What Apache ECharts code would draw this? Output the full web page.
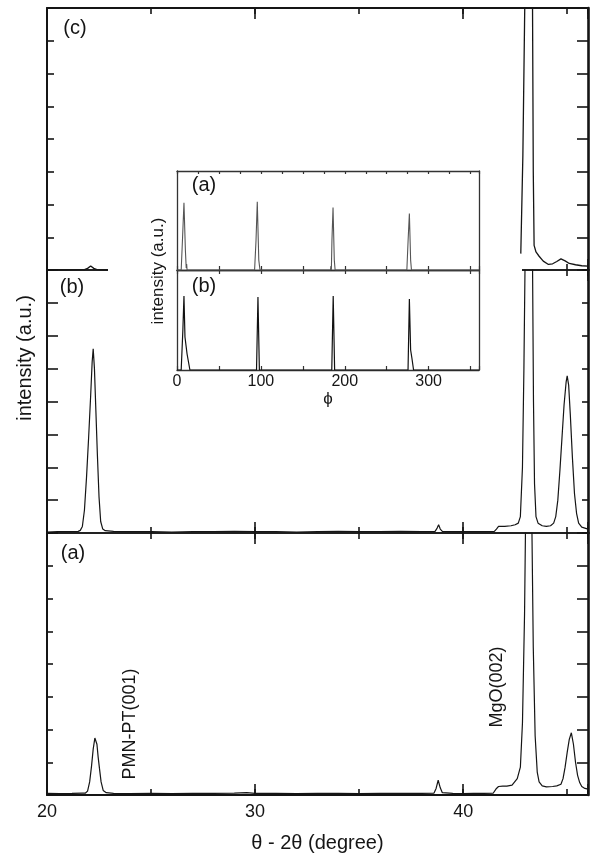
<!DOCTYPE html>
<html>
<head>
<meta charset="utf-8">
<script src="https://cdn.jsdelivr.net/npm/echarts@6/dist/echarts.min.js"></script>
<style>html,body{margin:0;padding:0;background:#fff}#c{width:592px;height:855px}</style>
</head>
<body>
<div id="c"></div>
<script>
// ---- data: theta-2theta scans, [2theta (deg), intensity (a.u.)], panel units 0..8 ----
const scanC = [
  [20.0,0.0],[21.0,0.0],[21.8,0.01],[21.95,0.05],[22.1,0.12],[22.25,0.05],[22.4,0.01],[22.93,0.0],
  [32.0,null],
  [42.77,0.5],[42.87,3.5],[42.95,7.5],[43.02,11],[43.15,40],[43.32,10],[43.37,3],[43.41,0.75],
  [43.5,0.55],[43.65,0.42],[43.85,0.27],[44.1,0.17],[44.3,0.19],[44.5,0.26],[44.7,0.34],[44.78,0.35],
  [44.9,0.28],[45.1,0.2],[45.4,0.16],[45.7,0.13],[46.0,0.12]
];
const scanB = [
  [20.0,0.03],[20.5,0.04],[21.0,0.04],[21.5,0.05],[21.6,0.08],[21.7,0.2],[21.8,0.7],[21.9,1.7],
  [22.0,2.9],[22.1,4.2],[22.17,5.2],[22.22,5.6],[22.28,5.0],[22.35,3.7],[22.42,2.4],[22.5,1.1],
  [22.58,0.35],[22.68,0.12],[22.8,0.07],[23.2,0.05],[24,0.04],[25,0.04],[26,0.03],[27,0.04],
  [28,0.04],[29,0.05],[30,0.04],[31,0.04],[32,0.03],[33,0.04],[34,0.05],[35,0.04],[36,0.04],
  [37,0.05],[38,0.04],[38.65,0.05],[38.75,0.15],[38.82,0.25],[38.9,0.12],[39.0,0.05],[40,0.04],
  [41,0.04],[41.5,0.05],[41.6,0.12],[41.7,0.2],[42.0,0.2],[42.3,0.22],[42.5,0.25],[42.65,0.3],
  [42.75,0.5],[42.85,2.0],[42.92,5.0],[42.98,8.5],[43.15,35],[43.33,8.6],[43.38,4.0],[43.43,1.5],
  [43.5,0.5],[43.6,0.3],[43.8,0.22],[44.0,0.2],[44.2,0.22],[44.35,0.3],[44.45,0.5],[44.55,1.0],
  [44.65,1.9],[44.75,2.9],[44.85,3.9],[44.95,4.6],[45.0,4.78],[45.07,4.5],[45.15,3.6],[45.25,2.3],
  [45.35,1.2],[45.45,0.6],[45.55,0.3],[45.7,0.18],[46.0,0.12]
];
const scanA = [
  [20.0,0.05],[20.6,0.04],[21.2,0.05],[21.7,0.06],[21.85,0.06],[21.95,0.12],[22.05,0.4],[22.14,0.88],
  [22.22,1.4],[22.3,1.74],[22.34,1.77],[22.4,1.55],[22.46,1.15],[22.52,0.82],[22.6,0.4],[22.7,0.14],
  [22.85,0.07],[23.2,0.05],[24,0.04],[25,0.05],[26,0.04],[27,0.05],[28,0.05],[29,0.06],[29.6,0.07],
  [30,0.05],[31,0.05],[32,0.04],[33,0.05],[34,0.05],[35,0.04],[36,0.05],[37,0.05],[38,0.05],
  [38.6,0.06],[38.7,0.2],[38.8,0.45],[38.9,0.22],[39.0,0.07],[39.5,0.05],[40,0.04],[40.5,0.05],
  [41,0.05],[41.45,0.06],[41.6,0.2],[41.7,0.26],[41.9,0.27],[42.1,0.27],[42.35,0.3],[42.6,0.5],
  [42.75,0.85],[42.85,2.2],[42.95,5.5],[43.02,9.5],[43.15,40],[43.28,9.5],[43.37,4.5],[43.46,1.8],
  [43.56,0.7],[43.65,0.4],[43.8,0.28],[44.0,0.25],[44.3,0.26],[44.5,0.28],[44.7,0.33],[44.8,0.5],
  [44.9,0.85],[45.0,1.3],[45.1,1.7],[45.2,1.9],[45.3,1.55],[45.4,1.0],[45.5,0.6],[45.6,0.38],
  [45.7,0.26],[45.85,0.2],[46.0,0.18]
];
// ---- inset: phi scans, [phi (deg), intensity 0..1] ----
const phiA = [
  [0,0],[5,0],[6.5,0.3],[8.3,0.68],[10,0.2],[11,0.02],[11.5,0.06],[12,0],
  [92.5,0],[94.2,0.3],[95.7,0.69],[97.5,0.1],[98.5,0.03],[99,0],
  [183,0],[183.5,0.04],[184,0],[184.7,0.3],[186,0.63],[187.5,0.1],[188.5,0],
  [274,0],[275.5,0.3],[277,0.57],[278.5,0.1],[279.5,0],[360,0]
];
const phiB = [
  [0,0],[5,0],[7,0.4],[8.3,0.74],[9.5,0.33],[12,0.16],[15.4,0],
  [94.8,0],[96.5,0.73],[98.2,0],
  [184.5,0],[186.2,0.74],[187.9,0],
  [275.4,0],[277,0.71],[278.5,0.2],[280,0.12],[282,0],[360,0]
];
const mainTicks = {min: 20, max: 46, interval: 10, minorInterval: 5};
const yTicks = {min: 0, max: 8, interval: 1};
const phiTicks = {min: 0, max: 360};
const panelLabels = ['(c)', '(b)', '(a)'];
const insetLabels = ['(a)', '(b)'];

const FONT = "'Liberation Sans', Arial, Helvetica, sans-serif";
const INK = '#151515';

const mainGrids = [
  {left: 47, top: 8, width: 541, height: 262},
  {left: 47, top: 270, width: 541, height: 263},
  {left: 47, top: 533, width: 541, height: 262}
];
const insetGrids = [
  {left: 177, top: 171, width: 302, height: 99},
  {left: 177, top: 270, width: 302, height: 100}
];
const leftTickLen = [7, 11, 6];
const rightTickLen = [11, 6, 11];

// grids: 0-2 main, 3-4 inset, 5-7 overlays of main grids carrying the short ticks
const grid = mainGrids.concat(insetGrids).concat(mainGrids.map(g => Object.assign({}, g)));
const xAxis = [], yAxis = [];

mainGrids.forEach((g, i) => {
  ['bottom', 'top'].forEach(pos => {
    const outer = (i === 2 && pos === 'bottom') || (i === 0 && pos === 'top');
    const ax = {
      type: 'value', gridIndex: i, position: pos,
      min: mainTicks.min, max: mainTicks.max, interval: mainTicks.interval,
      axisLine: {show: true, onZero: false, lineStyle: {color: INK, width: outer ? 2 : 1.6}},
      axisTick: {show: true, inside: true, length: 11, lineStyle: {color: INK, width: 1.6}},
      splitLine: {show: false},
      axisLabel: {show: false}
    };
    if (i === 2 && pos === 'bottom') {
      ax.axisLabel = {show: true, margin: 8, fontSize: 18, fontFamily: FONT, color: INK,
        formatter: v => (v % 10 === 0 ? String(v) : '')};
      ax.name = 'θ - 2θ (degree)';
      ax.nameLocation = 'middle';
      ax.nameGap = 38;
      ax.nameTextStyle = {fontSize: 20, fontFamily: FONT, color: INK};
    }
    xAxis.push(ax);
  });
  ['left', 'right'].forEach(pos => {
    yAxis.push({
      type: 'value', gridIndex: i, position: pos,
      min: yTicks.min, max: yTicks.max, interval: yTicks.interval,
      axisLine: {show: true, onZero: false, lineStyle: {color: INK, width: pos === 'right' ? 2.6 : 2}},
      axisTick: {show: true, inside: true, length: pos === 'left' ? leftTickLen[i] : rightTickLen[i],
        lineStyle: {color: INK, width: 1.6}},
      splitLine: {show: false}, axisLabel: {show: false}
    });
  });
});

insetGrids.forEach((g, k) => {
  const gi = 3 + k;
  ['bottom', 'top'].forEach(pos => {
    const isTopOuter = (k === 0 && pos === 'top');
    const labelled = (k === 1 && pos === 'bottom');
    xAxis.push({
      type: 'value', gridIndex: gi, position: pos, z: 20,
      min: phiTicks.min, max: phiTicks.max, interval: isTopOuter ? 25 : 50,
      axisLine: {show: true, onZero: false, lineStyle: {color: '#333', width: 1.3}},
      axisTick: {show: true, inside: true, length: isTopOuter ? 3 : 4, lineStyle: {color: '#333', width: 1.2}},
      splitLine: {show: false},
      axisLabel: labelled ? {show: true, margin: 4, fontSize: 16, fontFamily: FONT, color: INK,
        formatter: v => (v % 100 === 0 && v < 360 ? String(v) : '')} : {show: false},
      name: labelled ? 'ϕ' : '',
      nameLocation: 'middle', nameGap: 9,
      nameTextStyle: {fontSize: 17, fontFamily: FONT, color: INK}
    });
  });
  ['left', 'right'].forEach(pos => {
    yAxis.push({
      type: 'value', gridIndex: gi, position: pos, z: 20,
      min: 0, max: 1,
      axisLine: {show: true, onZero: false, lineStyle: {color: '#333', width: 1.3}},
      axisTick: {show: false}, splitLine: {show: false}, axisLabel: {show: false}
    });
  });
});

// overlay grids: short ticks every 5 degrees
mainGrids.forEach((g, i) => {
  const gi = 5 + i;
  ['bottom', 'top'].forEach(pos => {
    xAxis.push({
      type: 'value', gridIndex: gi, position: pos,
      min: mainTicks.min, max: mainTicks.max, interval: mainTicks.minorInterval,
      axisLine: {show: false},
      axisTick: {show: true, inside: true, length: 6, lineStyle: {color: INK, width: 1.6}},
      splitLine: {show: false}, axisLabel: {show: false}
    });
  });
  yAxis.push({type: 'value', gridIndex: gi, min: yTicks.min, max: yTicks.max, show: false});
});

const lineSeries = (data, xi, yi, color, width, z) => ({
  type: 'line', data: data, xAxisIndex: xi, yAxisIndex: yi,
  showSymbol: false, symbol: 'none', clip: true, connectNulls: false,
  lineStyle: {color: color, width: width}, z: z, silent: true
});

const series = [
  lineSeries(scanC, 0, 0, INK, 1.3, 2),
  lineSeries(scanB, 2, 2, INK, 1.2, 2),
  lineSeries(scanA, 4, 4, INK, 1.2, 2),
  lineSeries(phiA, 6, 6, '#555', 1.1, 21),
  lineSeries(phiB, 8, 8, '#111', 1.2, 21)
];

const txt = (text, x, y, size, rot) => ({
  type: 'text', x: x, y: y, rotation: rot || 0, z: 30,
  style: {text: text, fontSize: size, fontFamily: FONT, fill: INK, align: 'center', verticalAlign: 'middle'}
});

const graphic = [
  // white background behind the inset, erasing the broken panel boundary
  {type: 'rect', shape: {x: 108, y: 259, width: 414, height: 23}, style: {fill: '#fff'}, z: 10},
  txt(panelLabels[0], 75, 28, 20),
  txt(panelLabels[1], 72, 287, 20),
  txt(panelLabels[2], 73, 553, 20),
  txt(insetLabels[0], 204, 185, 20),
  txt(insetLabels[1], 204, 286, 20),
  txt('intensity (a.u.)', 158, 271, 17, Math.PI / 2),
  txt('intensity (a.u.)', 25, 358, 20, Math.PI / 2),
  txt('PMN-PT(001)', 130, 724, 18, Math.PI / 2),
  txt('MgO(002)', 497, 687, 18, Math.PI / 2)
];

const chart = echarts.init(document.getElementById('c'), null, {renderer: 'canvas'});
chart.setOption({
  animation: false,
  backgroundColor: '#fff',
  grid: grid,
  xAxis: xAxis,
  yAxis: yAxis,
  series: series,
  graphic: graphic
});
</script>
</body>
</html>
